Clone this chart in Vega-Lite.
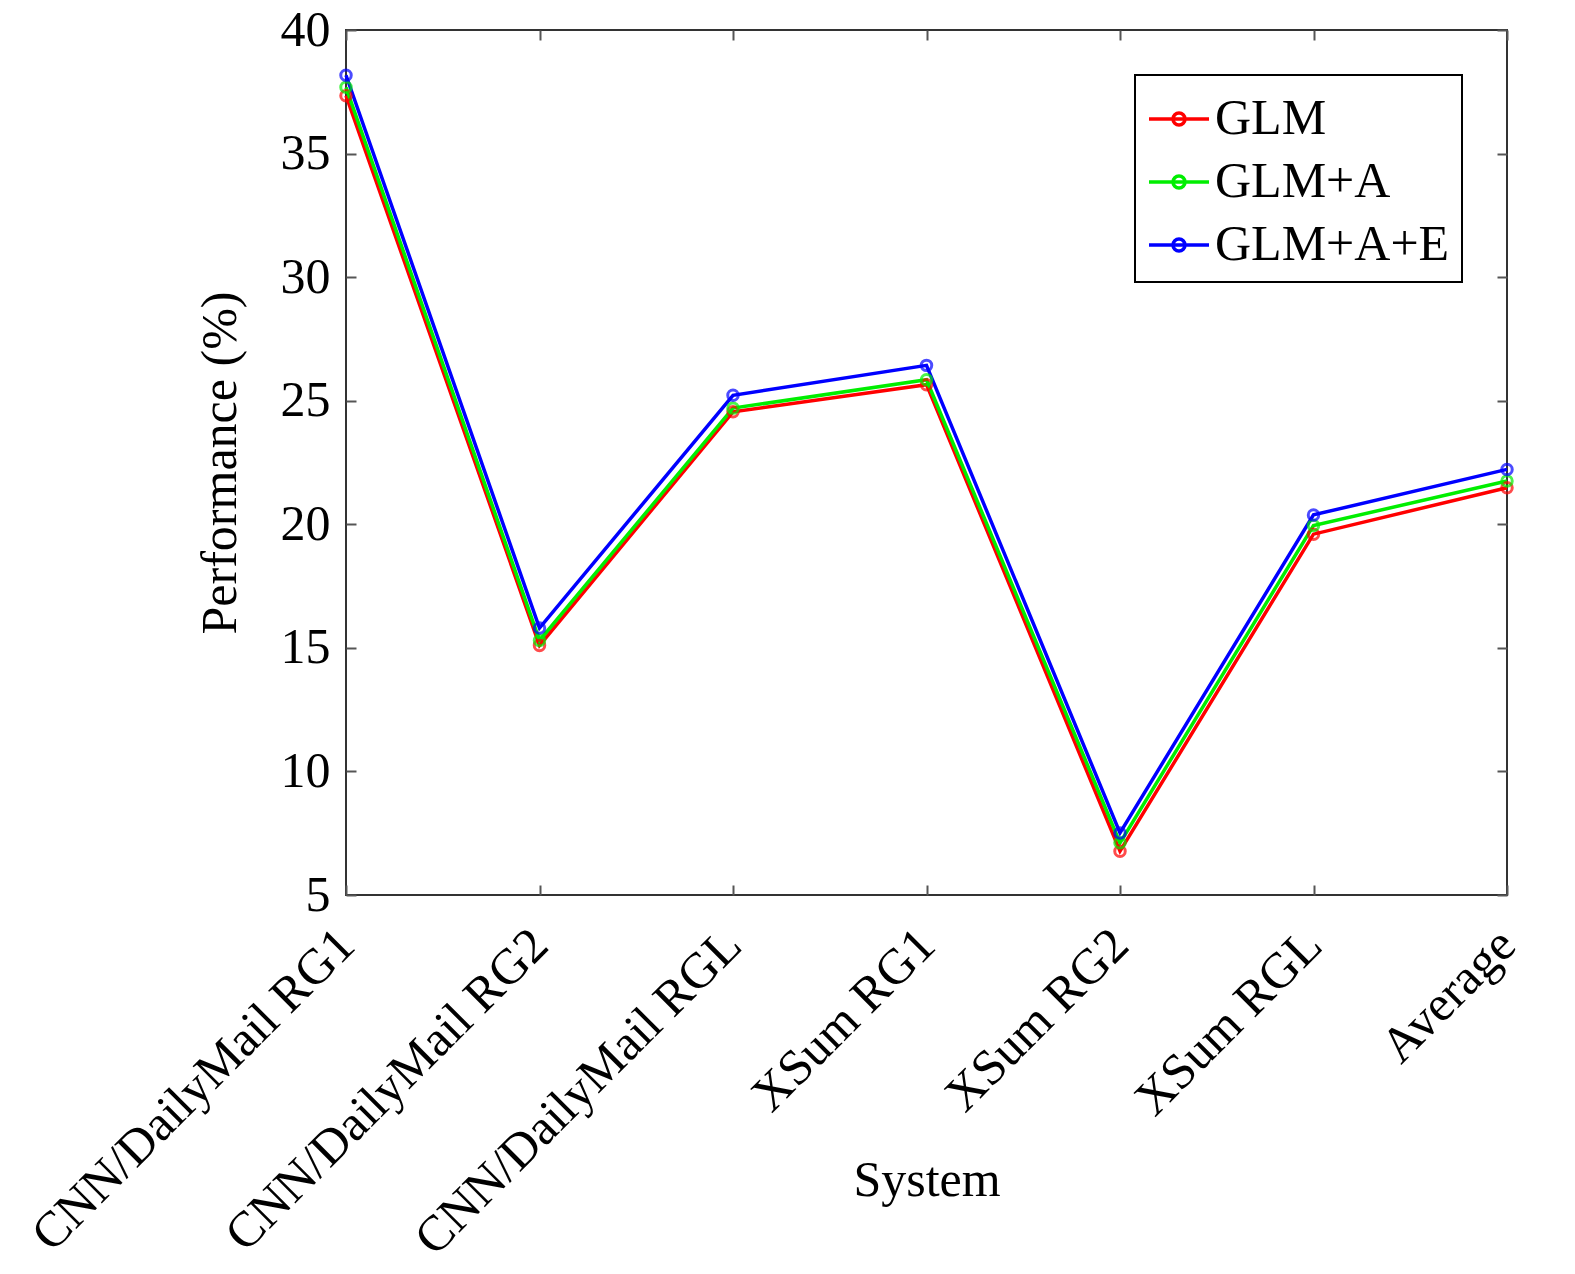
{
  "$schema": "https://vega.github.io/schema/vega-lite/v6.json",
  "autosize": "none",
  "padding": {"left": 346, "top": 30, "right": 68, "bottom": 379},
  "width": 1161,
  "height": 865,
  "background": "white",
  "config": {
    "font": "Liberation Serif",
    "view": {"stroke": "#333333", "strokeWidth": 2},
    "axis": {
      "domain": false,
      "grid": false,
      "tickColor": "#555555",
      "tickSize": -10,
      "tickWidth": 2,
      "labelColor": "black",
      "labelFont": "Liberation Serif",
      "titleFont": "Liberation Serif",
      "titleColor": "black",
      "titleFontWeight": "normal",
      "labelFontSize": 50,
      "titleFontSize": 50,
      "labelLimit": 0
    }
  },
  "data": {
    "values": [
      {"system": "CNN/DailyMail RG1", "model": "GLM", "value": 37.34},
      {"system": "CNN/DailyMail RG2", "model": "GLM", "value": 15.1},
      {"system": "CNN/DailyMail RGL", "model": "GLM", "value": 24.55},
      {"system": "XSum RG1", "model": "GLM", "value": 25.65},
      {"system": "XSum RG2", "model": "GLM", "value": 6.77},
      {"system": "XSum RGL", "model": "GLM", "value": 19.6},
      {"system": "Average", "model": "GLM", "value": 21.48},
      {"system": "CNN/DailyMail RG1", "model": "GLM+A", "value": 37.68},
      {"system": "CNN/DailyMail RG2", "model": "GLM+A", "value": 15.3},
      {"system": "CNN/DailyMail RGL", "model": "GLM+A", "value": 24.7},
      {"system": "XSum RG1", "model": "GLM+A", "value": 25.85},
      {"system": "XSum RG2", "model": "GLM+A", "value": 7.11},
      {"system": "XSum RGL", "model": "GLM+A", "value": 19.95},
      {"system": "Average", "model": "GLM+A", "value": 21.75},
      {"system": "CNN/DailyMail RG1", "model": "GLM+A+E", "value": 38.17},
      {"system": "CNN/DailyMail RG2", "model": "GLM+A+E", "value": 15.8},
      {"system": "CNN/DailyMail RGL", "model": "GLM+A+E", "value": 25.22},
      {"system": "XSum RG1", "model": "GLM+A+E", "value": 26.43},
      {"system": "XSum RG2", "model": "GLM+A+E", "value": 7.51},
      {"system": "XSum RGL", "model": "GLM+A+E", "value": 20.38},
      {"system": "Average", "model": "GLM+A+E", "value": 22.22}
    ]
  },
  "layer": [
    {
      "mark": {"type": "line", "strokeWidth": 3.5},
      "encoding": {
        "x": {
          "field": "system",
          "type": "ordinal",
          "sort": null,
          "scale": {"type": "point", "padding": 0},
          "axis": {"labelAngle": -45, "labelAlign": "right", "labelBaseline": "middle", "labelPadding": 52, "title": "System", "titleY": 300, "titleBaseline": "alphabetic"}
        },
        "y": {
          "field": "value",
          "type": "quantitative",
          "scale": {"domain": [5, 40], "nice": false, "zero": false},
          "axis": {"values": [5, 10, 15, 20, 25, 30, 35, 40], "title": "Performance (%)", "labelPadding": 26, "titleX": -126, "titleBaseline": "middle"}
        },
        "color": {
          "field": "model",
          "type": "nominal",
          "sort": ["GLM", "GLM+A", "GLM+A+E"],
          "scale": {"domain": ["GLM", "GLM+A", "GLM+A+E"], "range": ["#ff0000", "#00ee00", "#0000ff"]},
          "legend": {
            "title": null,
            "orient": "top-right",
            "offset": 45,
            "padding": 12,
            "strokeColor": "black",
            "fillColor": "white",
            "labelFontSize": 50,
            "labelFont": "Liberation Serif",
            "labelColor": "black",
            "labelLimit": 0,
            "rowPadding": 6,
            "symbolType": "M-1,0H1M-0.2,0A0.2,0.2,0,1,1,0.2,0A0.2,0.2,0,1,1,-0.2,0",
            "symbolSize": 3600,
            "symbolStrokeWidth": 3.5,
            "symbolFillColor": "transparent",
            "labelOffset": 4,
            "encode": {"legend": {"update": {"strokeWidth": {"value": 2}}}}
          }
        }
      }
    },
    {
      "mark": {"type": "point", "shape": "circle", "filled": false, "size": 110, "strokeWidth": 3},
      "encoding": {
        "x": {
          "field": "system",
          "type": "ordinal",
          "sort": null,
          "axis": {"orient": "top", "labels": false, "title": null}
        },
        "y": {
          "field": "value",
          "type": "quantitative",
          "axis": {"orient": "right", "values": [5, 10, 15, 20, 25, 30, 35, 40], "labels": false, "title": null}
        },
        "color": {"field": "model", "type": "nominal"}
      }
    }
  ],
  "resolve": {"axis": {"x": "independent", "y": "independent"}}
}
